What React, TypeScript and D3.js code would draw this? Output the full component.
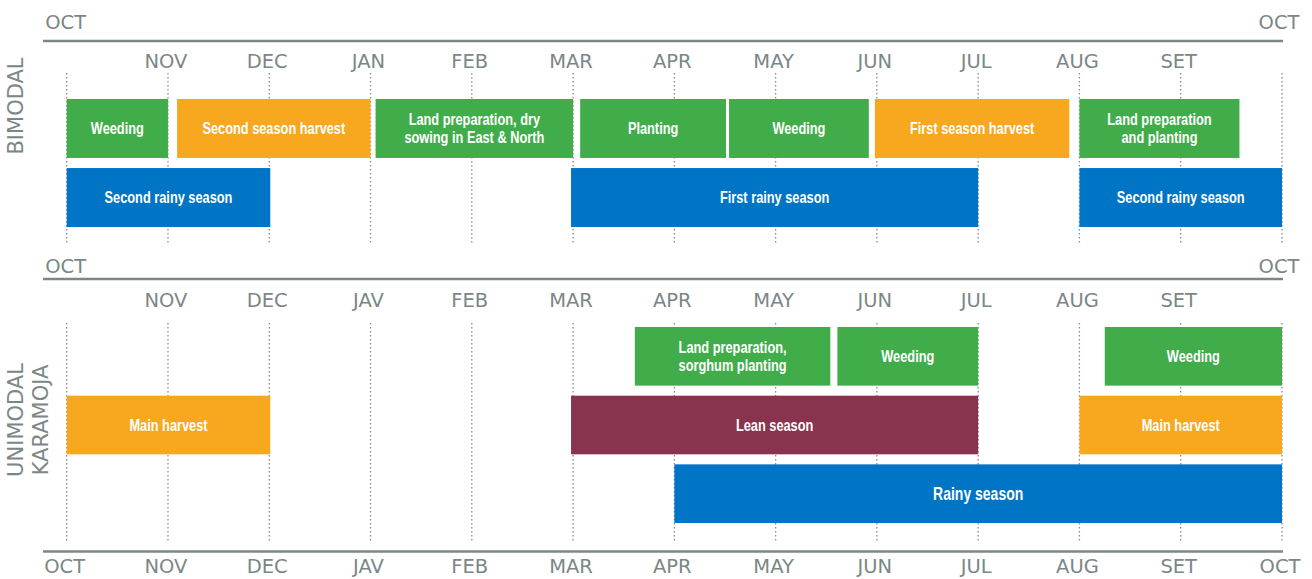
import React from 'react';
import * as d3 from 'd3';

// month index: 0 = OCT ... 12 = OCT of the following year
const topMonthsBimodal = ['NOV', 'DEC', 'JAN', 'FEB', 'MAR', 'APR', 'MAY', 'JUN', 'JUL', 'AUG', 'SET'];
const topMonthsUnimodal = ['NOV', 'DEC', 'JAV', 'FEB', 'MAR', 'APR', 'MAY', 'JUN', 'JUL', 'AUG', 'SET'];
const axisMonths = ['OCT', 'NOV', 'DEC', 'JAV', 'FEB', 'MAR', 'APR', 'MAY', 'JUN', 'JUL', 'AUG', 'SET', 'OCT'];

type Activity = { label: string; start: number; end: number; row: number; kind: string };

const bimodal: Activity[] = [
  { label: 'Weeding', start: 0, end: 1, row: 0, kind: 'field' },
  { label: 'Second season harvest', start: 1.09, end: 3, row: 0, kind: 'harvest' },
  { label: 'Land preparation, dry\nsowing in East & North', start: 3.05, end: 5, row: 0, kind: 'field' },
  { label: 'Planting', start: 5.07, end: 6.51, row: 0, kind: 'field' },
  { label: 'Weeding', start: 6.54, end: 7.92, row: 0, kind: 'field' },
  { label: 'First season harvest', start: 7.98, end: 9.9, row: 0, kind: 'harvest' },
  { label: 'Land preparation\nand planting', start: 10, end: 11.58, row: 0, kind: 'field' },
  { label: 'Second rainy season', start: 0, end: 2.01, row: 1, kind: 'rain' },
  { label: 'First rainy season', start: 4.98, end: 9, row: 1, kind: 'rain' },
  { label: 'Second rainy season', start: 10, end: 12, row: 1, kind: 'rain' },
];

const unimodal: Activity[] = [
  { label: 'Land preparation,\nsorghum planting', start: 5.61, end: 7.54, row: 0, kind: 'field' },
  { label: 'Weeding', start: 7.61, end: 9, row: 0, kind: 'field' },
  { label: 'Weeding', start: 10.25, end: 12, row: 0, kind: 'field' },
  { label: 'Main harvest', start: 0, end: 2.01, row: 1, kind: 'harvest' },
  { label: 'Lean season', start: 4.98, end: 9, row: 1, kind: 'lean' },
  { label: 'Main harvest', start: 10, end: 12, row: 1, kind: 'harvest' },
  { label: 'Rainy season', start: 6, end: 12, row: 2, kind: 'rain' },
];

const colors: Record<string, string> = {
  field: '#41ad4a',
  harvest: '#f7a81f',
  rain: '#0075c5',
  lean: '#88344e',
};

const W = 1312;
const H = 579;
const axisGray = '#7b8786';
const monthFont = '"DejaVu Sans", Verdana, sans-serif';
const barFont = '"Liberation Sans", Arial, sans-serif';

const x = d3.scaleLinear().domain([0, 12]).range([66.7, 1282]);
const ticks = d3.range(0, 13);

function Bars({ data, y }: { data: Activity[]; y: d3.ScaleBand<number> }) {
  return (
    <g>
      {data.map((d, i) => {
        const x0 = x(d.start);
        const x1 = x(d.end);
        const yy = y(d.row)!;
        const lines = d.label.split('\n');
        const cx = (x0 + x1) / 2;
        const cy = yy + y.bandwidth() / 2;
        const big = d.kind === 'rain' && d.row === 2;
        return (
          <g key={i}>
            <rect x={x0} y={yy} width={x1 - x0} height={y.bandwidth()} fill={colors[d.kind]} />
            {/* condensed bold label: squeeze a regular bold face horizontally */}
            <g transform={`translate(${cx},${cy}) scale(0.8,1)`}>
              <text
                textAnchor="middle"
                fill="#fff"
                fontFamily={barFont}
                fontWeight="bold"
                fontSize={big ? 17.5 : 16}
              >
                {lines.map((l, j) => (
                  <tspan key={j} x={0} y={(j - (lines.length - 1) / 2) * 18} dy="0.36em">
                    {l}
                  </tspan>
                ))}
              </text>
            </g>
          </g>
        );
      })}
    </g>
  );
}

function Grid({ y0, y1 }: { y0: number; y1: number }) {
  return (
    <g>
      {ticks.map((t) => (
        <line
          key={t}
          x1={x(t)}
          x2={x(t)}
          y1={y0}
          y2={y1}
          stroke="#8a8a8a"
          strokeWidth={1.3}
          strokeDasharray="1.5 2.5"
        />
      ))}
    </g>
  );
}

function MonthRow({ labels, yPos }: { labels: string[]; yPos: number }) {
  return (
    <g>
      {labels.map((m, i) => (
        <text
          key={i}
          x={x(i + 1) - 2}
          y={yPos}
          dy="0.36em"
          textAnchor="middle"
          fontFamily={monthFont}
          fontSize={19.5}
          fill={axisGray}
        >
          {m}
        </text>
      ))}
    </g>
  );
}

export default function App() {
  const yTop = d3.scaleBand<number>().domain([0, 1]).range([99, 227]).paddingInner(0.146);
  const yBottom = d3.scaleBand<number>().domain([0, 1, 2]).range([327, 523]).paddingInner(0.146);

  return (
    <svg width={W} height={H} style={{ position: 'absolute', left: 0, top: 0, background: '#fff' }}>
      {/* Bimodal panel */}
      <text x={x(0) - 1} y={22} dy="0.36em" textAnchor="middle" fontFamily={monthFont} fontSize={19.5} fill={axisGray}>OCT</text>
      <text x={x(12) - 3} y={22} dy="0.36em" textAnchor="middle" fontFamily={monthFont} fontSize={19.5} fill={axisGray}>OCT</text>
      <line x1={43} x2={1283} y1={41} y2={41} stroke={axisGray} strokeWidth={2.5} />
      <MonthRow labels={topMonthsBimodal} yPos={61} />
      <Grid y0={73} y1={243} />
      <Bars data={bimodal} y={yTop} />
      <text
        transform="translate(15,106) rotate(-90)"
        dy="0.36em"
        textAnchor="middle"
        fontFamily={monthFont}
        fontSize={21}
        fill={axisGray}
      >
        BIMODAL
      </text>

      {/* Unimodal panel */}
      <text x={x(0) - 1} y={266} dy="0.36em" textAnchor="middle" fontFamily={monthFont} fontSize={19.5} fill={axisGray}>OCT</text>
      <text x={x(12) - 3} y={266} dy="0.36em" textAnchor="middle" fontFamily={monthFont} fontSize={19.5} fill={axisGray}>OCT</text>
      <line x1={43} x2={1283} y1={279} y2={279} stroke={axisGray} strokeWidth={2.5} />
      <MonthRow labels={topMonthsUnimodal} yPos={300} />
      <Grid y0={323} y1={541} />
      <Bars data={unimodal} y={yBottom} />
      <text
        transform="translate(15,420) rotate(-90)"
        dy="0.36em"
        textAnchor="middle"
        fontFamily={monthFont}
        fontSize={21}
        fill={axisGray}
      >
        UNIMODAL
      </text>
      <text
        transform="translate(40,420) rotate(-90)"
        dy="0.36em"
        textAnchor="middle"
        fontFamily={monthFont}
        fontSize={21}
        fill={axisGray}
      >
        KARAMOJA
      </text>

      {/* bottom axis */}
      <line x1={43} x2={1283} y1={551.5} y2={551.5} stroke={axisGray} strokeWidth={2.5} />
      {axisMonths.map((m, i) => (
        <text
          key={i}
          x={x(i) - 2}
          y={566}
          dy="0.36em"
          textAnchor="middle"
          fontFamily={monthFont}
          fontSize={19.5}
          fill={axisGray}
        >
          {m}
        </text>
      ))}
    </svg>
  );
}
